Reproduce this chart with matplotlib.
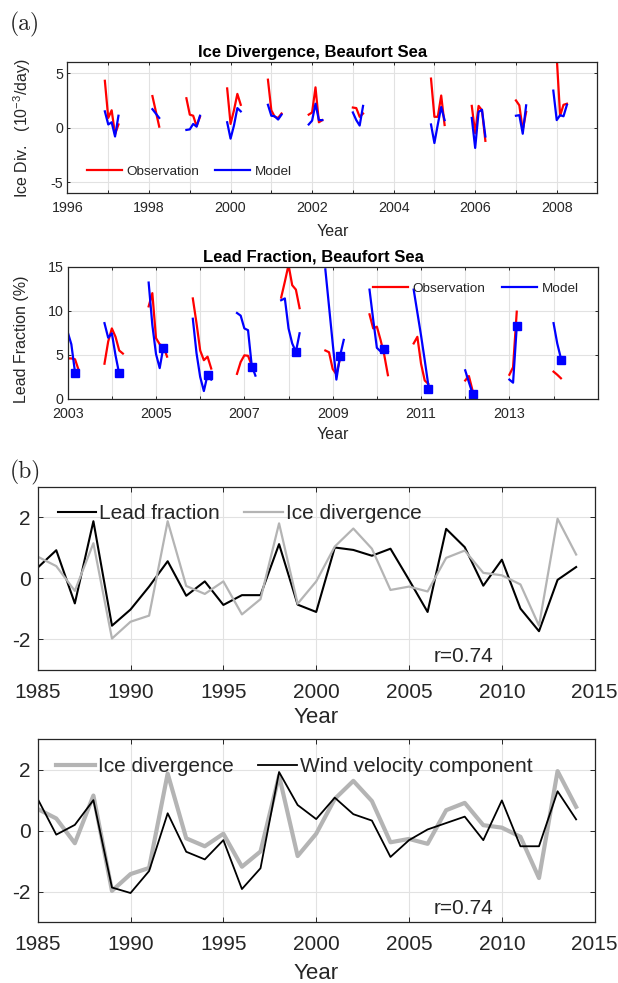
import numpy as np
import matplotlib
matplotlib.use('Agg')
import matplotlib.pyplot as plt

plt.rcParams['font.family'] = ['Liberation Sans', 'DejaVu Sans']
plt.rcParams['mathtext.default'] = 'regular'
plt.rcParams['axes.unicode_minus'] = False

TXT = '#262626'
RED = '#ff0000'
BLUE = '#0000ff'
GRAY = '#b4b4b4'
nan = np.nan

# ---- (a) upper: ice divergence, monthly Dec..Apr for each winter
div_months = [-1, 0, 1, 2, 3]
div_years = [1997, 1998, 1999, 2000, 2001, 2002, 2003, 2005, 2006, 2007, 2008]
div_obs = [
    [4.3, 0.9, 1.6, -0.6, 0.3],
    [nan, nan, 2.9, 1.5, 0.1],
    [2.7, 1.2, 1.1, 0.15, 1.0],
    [3.6, 0.35, 1.6, 3.1, 2.1],
    [4.4, 1.6, 1.0, 0.9, 1.3],
    [1.2, 1.4, 3.7, 0.5, 0.7],
    [nan, 1.85, 1.8, 1.0, 1.3],
    [4.5, 1.0, 1.0, 2.95, 0.25],
    [2.0, -0.5, 2.0, 1.6, -1.2],
    [nan, 2.5, 2.05, -0.2, 1.45],
    [nan, 6.5, 1.1, 2.1, 2.2],
]
div_mod = [
    [1.5, 0.3, 0.5, -0.8, 1.1],
    [nan, nan, 1.7, 1.3, 0.9],
    [-0.2, -0.15, 0.35, 0.1, 1.1],
    [0.5, -1.0, 0.2, 1.8, 1.5],
    [2.1, 1.1, 1.05, 0.75, 1.2],
    [0.3, 0.65, 2.2, 0.7, 0.7],
    [nan, 1.4, 0.7, 0.2, 2.0],
    [0.3, -1.4, 0.3, 1.9, 0.7],
    [0.9, -1.85, 1.45, 1.65, -0.8],
    [nan, 1.1, 1.15, -0.55, 2.05],
    [3.4, 0.7, 1.15, 1.05, 2.1],
]
div_xticks = list(range(1996, 2010))
div_xlabels = ['1996', '', '1998', '', '2000', '', '2002', '', '2004', '',
               '2006', '', '2008', '']

# ---- (a) lower: lead fraction, monthly Nov..Apr, square = March value
lead_months = [-2, -1, 0, 1, 2, 3]
lead_years = [2003, 2004, 2005, 2006, 2007, 2008, 2009, 2010, 2011, 2012, 2013, 2014]
lead_obs = [
    [nan, nan, 4.6, 4.6, 4.5, 3.25],
    [4.0, 6.5, 8.0, 7.05, 5.5, 5.15],
    [10.5, 12.0, 6.9, 6.2, 6.0, 4.8],
    [11.4, 8.6, 5.5, 4.4, 4.8, 3.45],
    [2.85, 4.2, 4.95, 4.9, 3.8, nan],
    [11.5, 13.3, 15.2, 12.9, 12.4, 10.3],
    [5.5, 5.3, 3.4, 2.8, 4.6, nan],
    [9.6, 8.0, 8.2, 6.7, 5.0, 2.7],
    [6.3, 7.05, 4.0, 2.1, 1.7, nan],
    [nan, nan, 2.1, 2.6, 0.95, nan],
    [nan, nan, 2.75, 3.6, 9.9, nan],
    [nan, nan, 3.1, 2.75, 2.35, nan],
]
lead_mod = [
    [nan, nan, 7.6, 6.2, 3.0, nan],
    [8.6, 6.95, 7.45, 4.95, 2.85, nan],
    [13.2, 8.4, 5.1, 3.5, 5.9, nan],
    [9.1, 5.2, 2.5, 0.9, 2.75, 2.2],
    [9.75, 9.45, 8.0, 7.8, 3.8, 2.65],
    [11.2, 11.4, 8.0, 6.3, 5.35, 7.45],
    [14.7, 10.5, 6.3, 2.2, 4.9, 6.7],
    [12.4, 9.0, 5.8, 5.4, 5.8, 5.4],
    [12.4, 9.8, 7.2, 4.4, 1.5, nan],
    [nan, nan, 3.25, 1.9, 0.6, nan],
    [nan, nan, 2.2, 1.85, 8.2, nan],
    [nan, nan, 8.6, 6.3, 4.6, nan],
]
lead_square = [2.9, 2.9, 5.8, 2.75, 3.6, 5.35, 4.85, 5.7, 1.1, 0.6, 8.25, 4.4]
lead_xticks = list(range(2003, 2016))
lead_xlabels = ['2003', '', '2005', '', '2007', '', '2009', '', '2011', '',
                '2013', '', '']

# ---- (b) annual anomalies 1985-2014
years = np.arange(1985, 2015)
lead_anom = [0.35, 0.92, -0.82, 1.87, -1.55, -1.02, -0.27, 0.56, -0.57, -0.10,
             -0.87, -0.55, -0.55, 1.12, -0.86, -1.10, 1.01, 0.93, 0.74, 0.97,
             -0.05, -1.10, 1.62, 1.02, -0.24, 0.61, -0.99, -1.73, -0.05, 0.37]
div_anom = [0.71, 0.40, -0.41, 1.15, -1.97, -1.42, -1.22, 1.87, -0.25, -0.51,
            -0.10, -1.18, -0.68, 1.80, -0.83, -0.10, 1.04, 1.63, 0.97, -0.38,
            -0.27, -0.43, 0.67, 0.91, 0.18, 0.10, -0.20, -1.55, 1.95, 0.78]
wind_anom = [1.04, -0.13, 0.19, 1.00, -1.86, -2.04, -1.32, 0.57, -0.69, -0.94,
             -0.31, -1.91, -1.23, 1.92, 0.84, 0.38, 1.08, 0.54, 0.33, -0.86,
             -0.31, 0.04, 0.25, 0.46, -0.31, 0.99, -0.51, -0.51, 1.29, 0.37]


def style(ax, fs, ticklen, xpad, ypad):
    ax.grid(True, color='#e2e2e2', lw=0.8)
    ax.set_axisbelow(True)
    for s in ax.spines.values():
        s.set_color(TXT)
        s.set_linewidth(0.9)
    ax.tick_params(direction='in', top=True, right=True, length=ticklen,
                   width=0.7, colors=TXT, labelsize=fs)
    ax.tick_params(axis='x', pad=xpad)
    ax.tick_params(axis='y', pad=ypad)


fig = plt.figure(figsize=(6.18, 9.83), dpi=100)

# ---------- ice divergence
ax1 = fig.add_axes([0.1092, 0.8034, 0.8576, 0.1333])
for i, yr in enumerate(div_years):
    x = yr + np.array(div_months) / 12
    ax1.plot(x, div_obs[i], color=RED, lw=1.6, label='Observation' if i == 0 else None)
    ax1.plot(x, div_mod[i], color=BLUE, lw=1.6, label='Model' if i == 0 else None)
ax1.set_xlim(1996, 2009)
ax1.set_ylim(-6, 6)
ax1.set_yticks([-5, 0, 5])
ax1.set_xticks(div_xticks)
ax1.set_xticklabels(div_xlabels)
style(ax1, 10.3, 2.5, 5.5, 3)
ax1.set_title('Ice Divergence, Beaufort Sea', fontsize=12, fontweight='bold',
              color='black', pad=4, x=0.463)
ax1.set_xlabel('Year', fontsize=11.5, color=TXT)
ax1.xaxis.set_label_coords(0.5, -0.232)
ax1.set_ylabel('Ice Div.   (10$^{-3}$/day)', fontsize=11.5, color=TXT)
ax1.yaxis.set_label_coords(-0.065, 0.5)
ax1.legend(loc='center left', bbox_to_anchor=(0.036, 0.165), ncol=2, frameon=False,
           fontsize=9.7, handlelength=2.6, handletextpad=0.35, columnspacing=1.2,
           borderpad=0, borderaxespad=0, labelcolor=TXT)

# ---------- lead fraction
ax2 = fig.add_axes([0.1095, 0.5941, 0.8577, 0.1346])
for i, yr in enumerate(lead_years):
    x = yr + np.array(lead_months) / 12
    ax2.plot(x, lead_obs[i], color=RED, lw=1.6, label='Observation' if i == 0 else None)
    ax2.plot(x, lead_mod[i], color=BLUE, lw=1.6, label='Model' if i == 0 else None)
ax2.plot(np.array(lead_years) + 2 / 12, lead_square, 's', color=BLUE, ms=5.5, ls='none')
ax2.set_xlim(2003, 2015)
ax2.set_ylim(0, 15)
ax2.set_yticks([0, 5, 10, 15])
ax2.set_xticks(lead_xticks)
ax2.set_xticklabels(lead_xlabels)
style(ax2, 10.3, 2.5, 5.5, 3)
ax2.set_title('Lead Fraction, Beaufort Sea', fontsize=12, fontweight='bold',
              color='black', pad=4, x=0.463)
ax2.set_xlabel('Year', fontsize=11.5, color=TXT)
ax2.xaxis.set_label_coords(0.5, -0.212)
ax2.set_ylabel('Lead Fraction (%)', fontsize=11.5, color=TXT)
ax2.yaxis.set_label_coords(-0.073, 0.45)
ax2.legend(loc='center left', bbox_to_anchor=(0.576, 0.834), ncol=2, frameon=False,
           fontsize=9.7, handlelength=2.6, handletextpad=0.35, columnspacing=1.2,
           borderpad=0, borderaxespad=0, labelcolor=TXT)

# ---------- (b) lead fraction vs ice divergence
ax3 = fig.add_axes([0.0610, 0.3184, 0.9013, 0.1865])
ax3.plot(years, lead_anom, color='black', lw=1.5, label='Lead fraction')
ax3.plot(years, div_anom, color=GRAY, lw=1.6, label='Ice divergence')
ax3.set_xlim(1985, 2015)
ax3.set_ylim(-3, 3)
ax3.set_yticks([-2, 0, 2])
ax3.set_xticks(range(1985, 2016, 5))
style(ax3, 15, 3.6, 9, 5)
ax3.set_xlabel('Year', fontsize=16, color=TXT)
ax3.xaxis.set_label_coords(0.5, -0.2)
ax3.text(2006.3, -2.55, 'r=0.74', fontsize=15, color=TXT, va='center')
ax3.legend(loc='center left', bbox_to_anchor=(0.036, 0.851), ncol=2, frameon=False,
           fontsize=15, handlelength=1.85, handletextpad=0.15, columnspacing=1.15,
           borderpad=0, borderaxespad=0, labelcolor=TXT)

# ---------- (b) ice divergence vs wind
ax4 = fig.add_axes([0.0610, 0.0617, 0.9013, 0.1865])
ax4.plot(years, div_anom, color=GRAY, lw=3.0, label='Ice divergence')
ax4.plot(years, wind_anom, color='black', lw=1.3, label='Wind velocity component')
ax4.set_xlim(1985, 2015)
ax4.set_ylim(-3, 3)
ax4.set_yticks([-2, 0, 2])
ax4.set_xticks(range(1985, 2016, 5))
style(ax4, 15, 3.6, 9, 5)
ax4.set_xlabel('Year', fontsize=16, color=TXT)
ax4.xaxis.set_label_coords(0.5, -0.222)
ax4.text(2006.3, -2.55, 'r=0.74', fontsize=15, color=TXT, va='center')
ax4.legend(loc='center left', bbox_to_anchor=(0.033, 0.848), ncol=2, frameon=False,
           fontsize=15, handlelength=1.85, handletextpad=0.15, columnspacing=1.2,
           borderpad=0, borderaxespad=0, labelcolor=TXT)

fig.text(0.016, 0.9756, '(a)', family='cmr10', fontsize=17, va='center', color=TXT)
fig.text(0.016, 0.5198, '(b)', family='cmr10', fontsize=17, va='center', color=TXT)

fig.savefig('out.png', dpi=100)
